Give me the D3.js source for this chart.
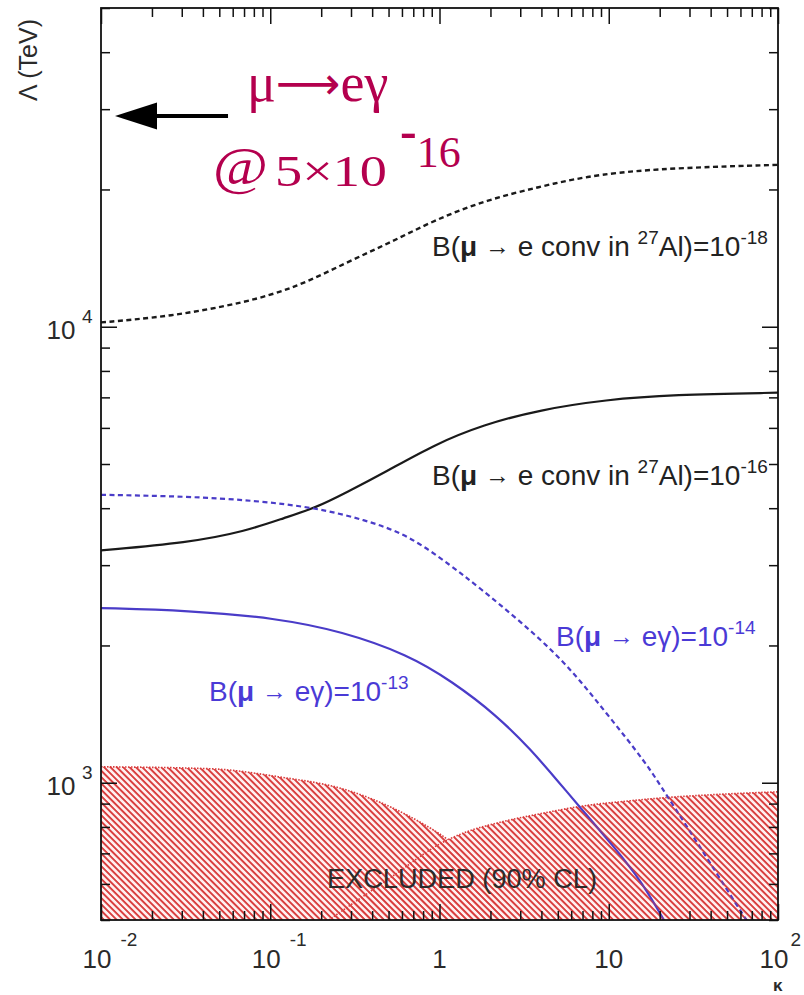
<!DOCTYPE html>
<html><head><meta charset="utf-8">
<script src="https://cdn.jsdelivr.net/npm/d3@7"></script>
<style>
html,body{margin:0;padding:0;background:#fff;}
svg{display:block;}
</style></head><body>
<svg id="chart" width="804" height="995"></svg>
<script>
// Each curve: [κ, Λ (TeV)]
const convAl18 = [[0.01,10220],[0.0256,10530],[0.071,11290],[0.146,12240],[0.28,13820],[0.51,15280],[0.94,17160],[1.91,18990],[3.93,20280],[7.14,21330],[17.5,22210],[100,22650]];
const convAl16 = [[0.01,3232],[0.0327,3360],[0.071,3557],[0.122,3812],[0.186,4010],[0.28,4325],[0.483,4808],[0.928,5511],[1.81,6096],[3.93,6577],[9.64,6918],[23.7,7096],[100,7166]];
const meg14 = [[0.01,4280],[0.0327,4245],[0.08,4159],[0.186,4010],[0.358,3775],[0.652,3499],[1.186,2981],[1.69,2692],[3.07,2244],[5.58,1832],[9.64,1424],[16.6,1106],[21.5,951],[37.1,695],[64.7,500],[78.3,453]];
const meg13 = [[0.01,2416],[0.0327,2387],[0.108,2297],[0.266,2147],[0.652,1909],[1.186,1668],[2.16,1409],[3.47,1182],[5.1,1000],[6.7,887],[10.7,725],[15.4,612],[20.8,506],[23.3,470]];

// Excluded regions (90% CL), upper boundary
const excludedLeft = [[0.01,1084],[0.0447,1073],[0.111,1031],[0.277,966],[0.51,886],[0.778,817],[1.12,750],[1.73,644],[2.61,500]];
const excludedRight = [[0.222,500],[0.5,615],[1.12,750],[1.44,780],[2.31,820],[3.93,855],[7.14,890],[13,912],[23.7,930],[50,945],[100,955]];

// Tick labels
const xTickLabels = [{v:0.01,base:"10",exp:"-2"},{v:0.1,base:"10",exp:"-1"},{v:1,base:"1",exp:""},{v:10,base:"10",exp:""},{v:100,base:"10",exp:"2"}];
const yTickLabels = [{v:1000,base:"10",exp:"3"},{v:10000,base:"10",exp:"4"}];

// Arrow for the μ→eγ sensitivity note: Λ level and κ extent
const arrowLambda = 29000;
const arrowKappa = [0.0563, 0.0121];

const svg = d3.select("#chart");
const plotL = 101, plotR = 778, plotT = 8, plotB = 920;
const x = d3.scaleLog().domain([0.01, 100]).range([plotL, plotR]);
const y = d3.scaleLog().domain([500, 50000]).range([plotB, plotT]);
const SANS = "'Liberation Sans', Arial, Helvetica, sans-serif";
const SERIF = "'Liberation Serif', 'Times New Roman', serif";

const defs = svg.append("defs");
defs.append("clipPath").attr("id", "plotClip")
  .append("rect").attr("x", plotL).attr("y", plotT).attr("width", plotR - plotL).attr("height", plotB - plotT);
const pat = defs.append("pattern").attr("id", "hatch")
  .attr("patternUnits", "userSpaceOnUse").attr("width", 4.5).attr("height", 4.5)
  .attr("patternTransform", "rotate(45)");
pat.append("rect").attr("x", 0).attr("y", 0).attr("width", 4.5).attr("height", 1.7).attr("fill", "#d83a3a");

const plot = svg.append("g").attr("clip-path", "url(#plotClip)");

// Excluded regions
const area = d3.area().x(d => x(d[0])).y0(plotB).y1(d => y(d[1])).curve(d3.curveMonotoneX);
const edge = d3.line().x(d => x(d[0])).y(d => y(d[1])).curve(d3.curveMonotoneX);
[excludedLeft, excludedRight].forEach(reg => {
  plot.append("path").attr("d", area(reg)).attr("fill", "#fff0f0");
  plot.append("path").attr("d", area(reg)).attr("fill", "url(#hatch)");
  plot.append("path").attr("d", edge(reg)).attr("fill", "none")
    .attr("stroke", "#d83a3a").attr("stroke-width", 1.6).attr("stroke-dasharray", "1.5,1.5");
});

// Curves
const line = d3.line().x(d => x(d[0])).y(d => y(d[1])).curve(d3.curveBasis);
const series = [
  {data: convAl18, color: "#1a1a1a", dash: "5,3.5", w: 2.4},
  {data: convAl16, color: "#1a1a1a", dash: null, w: 2.2},
  {data: meg14, color: "#4a3cc8", dash: "5,3.5", w: 2.2},
  {data: meg13, color: "#4a3cc8", dash: null, w: 2.2}
];
series.forEach(s => {
  plot.append("path").attr("d", line(s.data)).attr("fill", "none")
    .attr("stroke", s.color).attr("stroke-width", s.w)
    .attr("stroke-dasharray", s.dash);
});

// Hatch veil over curves inside the excluded area
[excludedLeft, excludedRight].forEach(reg => {
  plot.append("path").attr("d", area(reg)).attr("fill", "url(#hatch)").attr("opacity", 0.4);
});

// Axes with log ticks on all four sides, pointing inward
const isMajor = v => Math.abs(Math.log10(v) - Math.round(Math.log10(v))) < 1e-6;
function styleAxis(g, major) {
  g.select(".domain").remove();
  g.selectAll(".tick line").attr("stroke", "#111").attr("stroke-width", 1.5);
  g.selectAll(".tick").filter(d => isMajor(d)).select("line").each(function () {
    const el = d3.select(this);
    ["x2", "y2"].forEach(a => { const v = +el.attr(a); if (v) el.attr(a, v < 0 ? -major : major); });
  });
}
const xt = x.ticks(), yt = y.ticks();
svg.append("g").attr("transform", `translate(0,${plotB})`)
  .call(d3.axisBottom(x).tickValues(xt).tickSize(-9).tickFormat(""))
  .call(g => styleAxis(g, 16));
svg.append("g").attr("transform", `translate(0,${plotT})`)
  .call(d3.axisTop(x).tickValues(xt).tickSize(-9).tickFormat(""))
  .call(g => styleAxis(g, 16));
svg.append("g").attr("transform", `translate(${plotL},0)`)
  .call(d3.axisLeft(y).tickValues(yt).tickSize(-9).tickFormat(""))
  .call(g => styleAxis(g, 16));
svg.append("g").attr("transform", `translate(${plotR},0)`)
  .call(d3.axisRight(y).tickValues(yt).tickSize(-9).tickFormat(""))
  .call(g => styleAxis(g, 16));

svg.append("rect").attr("x", plotL).attr("y", plotT).attr("width", plotR - plotL).attr("height", plotB - plotT)
  .attr("fill", "none").attr("stroke", "#111").attr("stroke-width", 1.8);

// Tick labels
const labelColor = "#2a2a2a";
xTickLabels.forEach(t => {
  const cx = x(t.v);
  const b = svg.append("text").attr("font-family", SANS).attr("font-size", 26).attr("fill", labelColor)
    .attr("text-anchor", "middle").attr("x", t.exp ? cx - 4 : cx).attr("y", 968).text(t.base);
  if (t.exp) {
    const bw = b.node().getComputedTextLength();
    svg.append("text").attr("font-family", SANS).attr("font-size", 19).attr("fill", labelColor)
      .attr("x", cx - 4 + bw / 2 + (t.exp.startsWith("-") ? 9 : 2)).attr("y", 946).text(t.exp);
  }
});
yTickLabels.forEach(t => {
  const cy = y(t.v);
  svg.append("text").attr("font-family", SANS).attr("font-size", 26).attr("fill", labelColor)
    .attr("text-anchor", "middle").attr("x", 61).attr("y", cy + 12).text(t.base);
  svg.append("text").attr("font-family", SANS).attr("font-size", 19).attr("fill", labelColor)
    .attr("x", 82).attr("y", cy - 4).text(t.exp);
});

// Axis titles
svg.append("text").attr("font-family", SANS).attr("font-size", 25).attr("fill", labelColor)
  .attr("text-anchor", "middle").attr("transform", "translate(37,60) rotate(-90)").text("Λ (TeV)");
svg.append("text").attr("font-family", SANS).attr("font-size", 17).attr("font-weight", "bold").attr("fill", labelColor)
  .attr("x", 773).attr("y", 991).text("κ");

// Curve labels with superscripts and an arrow
function richLabel(px, py, color, pieces) {
  const t = svg.append("text").attr("font-family", SANS).attr("font-size", 28).attr("fill", color)
    .attr("x", px).attr("y", py);
  let shift = 0;
  pieces.forEach(p => {
    const s = t.append("tspan").text(p.t);
    let target = 0;
    if (p.sup) { s.attr("font-size", 19); target = -12; }
    else if (p.arrow) { s.attr("font-size", 25); target = -1; }
    else if (p.bold) { s.attr("font-weight", "bold"); }
    s.attr("dy", target - shift);
    shift = target;
  });
}
const ink = "#222";
richLabel(432, 256, ink, [{t:"B("},{t:"μ",bold:true},{t:" "},{t:"→",arrow:true},{t:" e conv in "},{t:"27",sup:true},{t:"Al)=10"},{t:"-18",sup:true}]);
richLabel(432, 485, ink, [{t:"B("},{t:"μ",bold:true},{t:" "},{t:"→",arrow:true},{t:" e conv in "},{t:"27",sup:true},{t:"Al)=10"},{t:"-16",sup:true}]);
const blueInk = "#4a3ad6";
richLabel(556, 646, blueInk, [{t:"B("},{t:"μ",bold:true},{t:" "},{t:"→",arrow:true},{t:" eγ)=10"},{t:"-14",sup:true}]);
richLabel(209, 701, blueInk, [{t:"B("},{t:"μ",bold:true},{t:" "},{t:"→",arrow:true},{t:" eγ)=10"},{t:"-13",sup:true}]);

svg.append("text").attr("font-family", SANS).attr("font-size", 27).attr("fill", "#2b2b2b")
  .attr("x", 327).attr("y", 888).attr("textLength", 270).attr("lengthAdjust", "spacingAndGlyphs")
  .text("EXCLUDED (90% CL)");

// μ→eγ sensitivity note
const ay = y(arrowLambda), ax0 = x(arrowKappa[0]), ax1 = x(arrowKappa[1]);
svg.append("line").attr("x1", ax0).attr("x2", ax1 + 38).attr("y1", ay).attr("y2", ay)
  .attr("stroke", "#000").attr("stroke-width", 4);
svg.append("path").attr("d", `M${ax1},${ay} L${ax1 + 42},${ay - 13.5} L${ax1 + 42},${ay + 13.5} Z`).attr("fill", "#000");

const red = "#b4004e";
const note = svg.append("text").attr("font-family", SERIF).attr("font-size", 54).attr("fill", red)
  .attr("x", 247).attr("y", 101);
note.append("tspan").text("μ");
note.append("tspan").attr("font-family", "'DejaVu Sans', sans-serif").attr("font-size", 45).attr("dy", -2).text("⟶");
note.append("tspan").attr("dy", 2).text("eγ");

svg.append("text").attr("font-family", SERIF).attr("font-size", 53).attr("fill", red)
  .attr("x", 213).attr("y", 184).attr("textLength", 55).attr("lengthAdjust", "spacingAndGlyphs").text("@");
svg.append("text").attr("font-family", SERIF).attr("font-size", 45).attr("fill", red)
  .attr("x", 275).attr("y", 186).attr("textLength", 112).attr("lengthAdjust", "spacingAndGlyphs").text("5×10");
const expo = svg.append("text").attr("font-family", SERIF).attr("font-size", 44).attr("fill", red)
  .attr("x", 400).attr("y", 167);
expo.append("tspan").attr("font-size", 50).attr("font-weight", "bold").attr("dy", -19).text("-");
expo.append("tspan").attr("dy", 19).text("16");
</script>
</body></html>
